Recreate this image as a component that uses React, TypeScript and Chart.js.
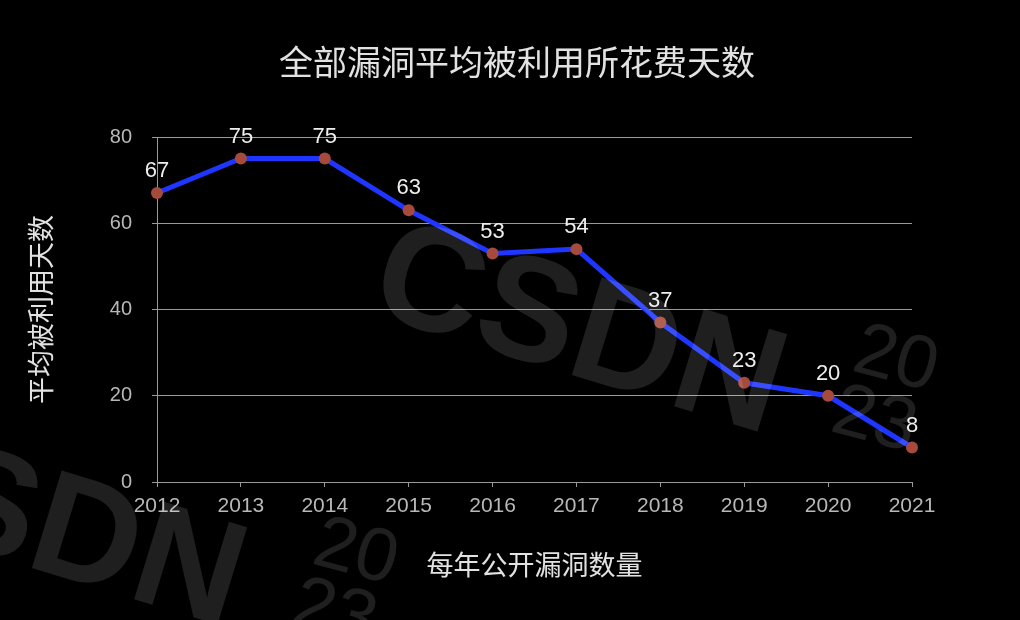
import React, { useEffect, useRef } from "react";
import { Chart, registerables } from "chart.js";

Chart.register(...registerables);

const years = ["2012", "2013", "2014", "2015", "2016", "2017", "2018", "2019", "2020", "2021"];
const avgDaysToExploit = [67, 75, 75, 63, 53, 54, 37, 23, 20, 8];
const yTickValues = [0, 20, 40, 60, 80];
const chartTitle = "全部漏洞平均被利用所花费天数";
const xAxisTitle = "每年公开漏洞数量";
const yAxisTitle = "平均被利用天数";
const watermarkWord = "CSDN";
const watermarkYear = ["20", "23"];

const FONT = "'Liberation Sans', 'Noto Sans CJK SC', Arial, sans-serif";
const CJK = "'Noto Sans CJK SC', 'Liberation Sans', sans-serif";

function drawWatermark(ctx: CanvasRenderingContext2D, x: number, y: number) {
  ctx.save();
  ctx.fillStyle = "rgba(255,255,255,0.12)";
  ctx.textAlign = "left";
  ctx.textBaseline = "alphabetic";
  ctx.translate(x, y);
  ctx.rotate((17 * Math.PI) / 180);
  ctx.font = `bold 148px ${FONT}`;
  ctx.fillText(watermarkWord, 0, 0);
  ctx.restore();

  ctx.save();
  ctx.fillStyle = "rgba(255,255,255,0.12)";
  ctx.font = `75px ${FONT}`;
  ctx.translate(x + 484, y + 58);
  ctx.rotate((15 * Math.PI) / 180);
  ctx.fillText(watermarkYear[0], 0, 0);
  ctx.fillText(watermarkYear[1], -5, 64);
  ctx.restore();
}

export default function App() {
  const canvasRef = useRef<HTMLCanvasElement | null>(null);

  useEffect(() => {
    if (!canvasRef.current) return;

    const decorPlugin = {
      id: "decor",
      beforeDraw(chart: any) {
        const ctx = chart.ctx;
        ctx.save();
        ctx.fillStyle = "#000";
        ctx.fillRect(0, 0, chart.width, chart.height);
        ctx.restore();
      },
      afterDatasetsDraw(chart: any) {
        const ctx = chart.ctx;
        const meta = chart.getDatasetMeta(0);
        const data = chart.data.datasets[0].data;
        ctx.save();
        ctx.fillStyle = "#eeeeee";
        ctx.font = `22px ${FONT}`;
        ctx.textAlign = "center";
        ctx.textBaseline = "middle";
        meta.data.forEach((pt: any, i: number) => {
          ctx.fillText(String(data[i]), pt.x, pt.y - 22);
        });
        ctx.restore();
      },
      afterDraw(chart: any) {
        const ctx = chart.ctx;
        ctx.save();
        ctx.fillStyle = "#e2e2e2";
        ctx.font = `34px ${CJK}`;
        ctx.textAlign = "center";
        ctx.textBaseline = "middle";
        ctx.fillText(chartTitle, 517, 62);
        ctx.restore();
        drawWatermark(ctx, 366, 312);
        drawWatermark(ctx, -174, 505);
      },
    };

    const chart = new Chart(canvasRef.current, {
      type: "line",
      data: {
        labels: years,
        datasets: [
          {
            data: avgDaysToExploit,
            borderColor: "#1e36ff",
            borderWidth: 5,
            pointBackgroundColor: "#a64a3c",
            pointBorderColor: "#a64a3c",
            pointBorderWidth: 0,
            pointRadius: 6,
            tension: 0,
            fill: false,
          },
        ],
      },
      options: {
        responsive: false,
        animation: false,
        layout: { padding: { top: 137, right: 108, bottom: 0, left: 0 } },
        plugins: {
          legend: { display: false },
          title: { display: false },
          tooltip: { enabled: false },
        },
        scales: {
          x: {
            type: "category",
            offset: false,
            afterFit: (scale: any) => {
              scale.height = 138;
            },
            grid: {
              drawOnChartArea: false,
              drawTicks: true,
              tickLength: 5,
              color: "#9a9a9a",
            },
            border: { display: true, color: "#9a9a9a" },
            ticks: {
              color: "#b8b8b8",
              font: { family: FONT, size: 21 },
              padding: 7,
              maxRotation: 0,
              autoSkip: false,
            },
            title: {
              display: true,
              text: xAxisTitle,
              color: "#e2e2e2",
              font: { family: CJK, size: 27 },
              padding: { top: 0, bottom: 39 },
            },
          },
          y: {
            min: yTickValues[0],
            max: yTickValues[yTickValues.length - 1],
            afterBuildTicks: (scale: any) => {
              scale.ticks = yTickValues.map((v) => ({ value: v }));
            },
            afterFit: (scale: any) => {
              scale.width = 157;
            },
            grid: {
              drawOnChartArea: true,
              drawTicks: true,
              tickLength: 5,
              color: "#9a9a9a",
            },
            border: { display: true, color: "#9a9a9a" },
            ticks: {
              color: "#b8b8b8",
              font: { family: FONT, size: 20 },
              padding: 20,
            },
            title: {
              display: true,
              text: yAxisTitle,
              color: "#e2e2e2",
              font: { family: CJK, size: 27 },
              padding: { top: 25, bottom: 0 },
            },
          },
        },
      },
      plugins: [decorPlugin],
    });

    return () => chart.destroy();
  }, []);

  return (
    <div
      style={{
        position: "fixed",
        left: 0,
        top: 0,
        width: 1020,
        height: 620,
        background: "#000",
      }}
    >
      <canvas ref={canvasRef} width={1020} height={620} style={{ display: "block" }} />
    </div>
  );
}
